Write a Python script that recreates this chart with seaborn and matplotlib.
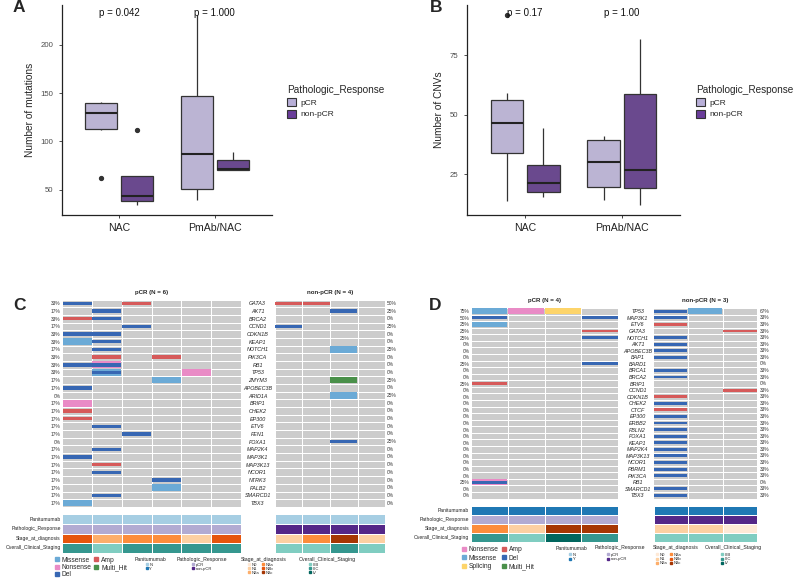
import numpy as np
import pandas as pd
import matplotlib
matplotlib.use("Agg")
import matplotlib.pyplot as plt
import seaborn as sns
from matplotlib.colors import ListedColormap
from matplotlib.patches import Patch
from matplotlib.lines import Line2D

# ---------------- data: box plots ----------------
groups = ["NAC", "PmAb/NAC"]
responses = ["pCR", "non-pCR"]

A_nac_pcr = [62, 112, 113, 120, 129, 135, 140, 141, 141]
A_nac_npcr = [34, 38, 44, 64, 112]
A_pmab_pcr = [40, 51, 87, 147, 231]
A_pmab_npcr = [70, 72, 89]
A_pvals = ["p = 0.042", "p = 1.000"]

B_nac_pcr = [14, 30, 33.9, 40, 46.7, 52, 56.2, 59.2, 92]
B_nac_npcr = [15.6, 17.7, 21.3, 28.8, 44.3]
B_pmab_pcr = [14.4, 19.9, 30.1, 39.4, 41.2]
B_pmab_npcr = [12, 19.3, 26.8, 58.5, 81.8]
B_pvals = ["p = 0.17", "p = 1.00"]

# ---------------- data: oncoprints ----------------
C_genes = ["GATA3", "AKT1", "BRCA2", "CCND1", "CDKN1B", "KEAP1", "NOTCH1", "PIK3CA", "RB1",
           "TP53", "ZMYM3", "APOBEC3B", "ARID1A", "BRIP1", "CHEK2", "EP300", "ETV6", "FEN1",
           "FOXA1", "MAP2K4", "MAP3K1", "MAP3K13", "NCOR1", "NTRK3", "PALB2", "SMARCD1", "TBX3"]
C_pcr_n = 6
C_npcr_n = 4
C_pcr_alts = [("GATA3", 0, "Del"), ("GATA3", 2, "Amp"), ("AKT1", 1, "Del"),
              ("BRCA2", 0, "Amp"), ("BRCA2", 1, "Del"), ("CCND1", 2, "Del"),
              ("CDKN1B", 0, "Del"), ("CDKN1B", 1, "Del"), ("KEAP1", 0, "Missense"),
              ("KEAP1", 1, "Del"), ("NOTCH1", 1, "Del"), ("PIK3CA", 1, "Amp"),
              ("PIK3CA", 3, "Amp"), ("RB1", 0, "Del"), ("RB1", 1, "Nonsense"), ("RB1", 1, "Del"),
              ("TP53", 1, "Missense"), ("TP53", 1, "Del"), ("TP53", 4, "Nonsense"),
              ("ZMYM3", 3, "Missense"), ("APOBEC3B", 0, "Del"), ("BRIP1", 0, "Nonsense"),
              ("CHEK2", 0, "Amp"), ("EP300", 0, "Amp"), ("ETV6", 1, "Del"), ("FEN1", 2, "Del"),
              ("MAP2K4", 1, "Del"), ("MAP3K1", 0, "Del"), ("MAP3K13", 1, "Amp"),
              ("NCOR1", 1, "Del"), ("NTRK3", 3, "Del"), ("PALB2", 3, "Missense"),
              ("SMARCD1", 1, "Del"), ("TBX3", 0, "Missense")]
C_npcr_alts = [("GATA3", 0, "Amp"), ("GATA3", 1, "Amp"), ("AKT1", 2, "Del"),
               ("CCND1", 0, "Del"), ("NOTCH1", 2, "Missense"), ("ZMYM3", 2, "Multi_Hit"),
               ("ARID1A", 2, "Missense"), ("FOXA1", 2, "Del")]
C_pcr_ann = {"Panitumumab": ["N"] * 6,
             "Pathologic_Response": ["pCR"] * 6,
             "Stage_at_diagnosis": ["N3b", "N2a", "N3a", "N3a", "N1", "N3b"],
             "Overall_Clinical_Staging": ["IIIC", "IIIB", "IIIC", "IIIC", "IIIC", "IIIC"]}
C_npcr_ann = {"Panitumumab": ["N"] * 4,
              "Pathologic_Response": ["non-pCR"] * 4,
              "Stage_at_diagnosis": ["N1", "N3a", "N3c", "N1"],
              "Overall_Clinical_Staging": ["IIIB", "IIIB", "IIIC", "IIIB"]}

D_genes = ["TP53", "MAP3K1", "ETV6", "GATA3", "NOTCH1", "AKT1", "APOBEC3B", "BAP1", "BARD1",
           "BRCA1", "BRCA2", "BRIP1", "CCND1", "CDKN1B", "CHEK2", "CTCF", "EP300", "ERBB2",
           "FBLN2", "FOXA1", "KEAP1", "MAP2K4", "MAP3K13", "NCOR1", "PBRM1", "PIK3CA", "RB1",
           "SMARCD1", "TBX3"]
D_pcr_n = 4
D_npcr_n = 3
D_pcr_alts = [("TP53", 0, "Missense"), ("TP53", 1, "Nonsense"), ("TP53", 2, "Splicing"),
              ("MAP3K1", 0, "Del"), ("MAP3K1", 3, "Del"), ("ETV6", 0, "Missense"),
              ("GATA3", 3, "Amp"), ("NOTCH1", 3, "Del"), ("BARD1", 3, "Del"),
              ("BRIP1", 0, "Amp"), ("RB1", 0, "Nonsense"), ("RB1", 0, "Del")]
D_npcr_alts = [("TP53", 0, "Del"), ("TP53", 1, "Missense"), ("MAP3K1", 0, "Del"),
               ("ETV6", 0, "Amp"), ("GATA3", 2, "Amp"), ("NOTCH1", 0, "Del"), ("AKT1", 0, "Del"),
               ("APOBEC3B", 0, "Del"), ("BAP1", 0, "Del"), ("BRCA1", 0, "Del"),
               ("BRCA2", 0, "Del"), ("CCND1", 2, "Amp"), ("CDKN1B", 0, "Amp"),
               ("CHEK2", 0, "Del"), ("CTCF", 0, "Amp"), ("EP300", 0, "Del"), ("ERBB2", 0, "Del"),
               ("FBLN2", 0, "Del"), ("FOXA1", 0, "Del"), ("KEAP1", 0, "Del"),
               ("MAP2K4", 0, "Del"), ("MAP3K13", 0, "Del"), ("NCOR1", 0, "Del"),
               ("PBRM1", 0, "Del"), ("PIK3CA", 0, "Del"), ("SMARCD1", 0, "Del"),
               ("TBX3", 0, "Del")]
D_pcr_ann = {"Panitumumab": ["Y"] * 4,
             "Pathologic_Response": ["pCR"] * 4,
             "Stage_at_diagnosis": ["N3a", "N1", "N3c", "N3c"],
             "Overall_Clinical_Staging": ["IIIC", "IIIB", "IV", "IIIC"]}
D_npcr_ann = {"Panitumumab": ["Y"] * 3,
              "Pathologic_Response": ["non-pCR"] * 3,
              "Stage_at_diagnosis": ["N1", "N1", "N0"],
              "Overall_Clinical_Staging": ["IIIB", "IIIB", "IIIB"]}

ann_tracks = ["Panitumumab", "Pathologic_Response", "Stage_at_diagnosis", "Overall_Clinical_Staging"]
pan_levels = ["N", "Y"]
resp_levels = ["pCR", "non-pCR"]
stage_levels = ["N0", "N1", "N2a", "N3a", "N3b", "N3c"]
overall_levels = ["IIIB", "IIIC", "IV"]
C_alt_legend = ["Missense", "Nonsense", "Del", "Amp", "Multi_Hit"]
D_alt_legend = ["Nonsense", "Missense", "Splicing", "Amp", "Del", "Multi_Hit"]

# ---------------- styles ----------------
BOX_COLORS = {"pCR": "#B8AFD8", "non-pCR": "#6A3D9A"}
ALT_COLORS = {"Missense": "#6BAAD6", "Nonsense": "#E98BC6", "Splicing": "#FDD46A",
              "Amp": "#D65A5A", "Del": "#3767B3", "Multi_Hit": "#4A904A"}
ALT_HEIGHT = {"Missense": 0.86, "Nonsense": 0.86, "Splicing": 0.86, "Multi_Hit": 0.86,
              "Amp": 0.45, "Del": 0.45}
ANN_COLORS = {"N": "#A6CEE3", "Y": "#1F78B4", "pCR": "#B2ABD2", "non-pCR": "#542788",
              "N0": "#FEE9D6", "N1": "#FDD0A2", "N2a": "#FDAE6B", "N3a": "#FD8D3C",
              "N3b": "#E6550D", "N3c": "#A63603",
              "IIIB": "#80CDC1", "IIIC": "#35978F", "IV": "#01665E"}

sns.set_theme(style="ticks")
plt.rcParams["font.family"] = ["Liberation Sans", "DejaVu Sans"]

W, H = 800, 578
fig = plt.figure(figsize=(W / 100, H / 100), dpi=100)


def add_ax(x0, y0, x1, y1):
    return fig.add_axes([x0 / W, 1 - y1 / H, (x1 - x0) / W, (y1 - y0) / H])


# ---------------- box plots ----------------
def make_df(sets):
    rows = []
    for grp, resp, vals in sets:
        rows += [(grp, resp, v) for v in vals]
    return pd.DataFrame(rows, columns=["Treatment", "Pathologic_Response", "Value"])


def box_panel(ax, df, ylabel, yticks, ylim, pvals, pval_y, leg_x):
    sns.boxplot(data=df, x="Treatment", y="Value", hue="Pathologic_Response", order=groups,
                hue_order=responses, palette=BOX_COLORS, width=0.75, gap=0.1,
                linecolor="#333333", linewidth=0.9, showcaps=False,
                flierprops=dict(marker="o", markersize=2.8, markerfacecolor="#333333",
                                markeredgecolor="#333333"),
                medianprops=dict(color="#222222", linewidth=1.5), ax=ax, legend=False)
    ax.set_xlim(-0.6, 1.6)
    ax.set_ylim(*ylim)
    ax.set_yticks(yticks)
    ax.set_xlabel("")
    ax.set_ylabel(ylabel, fontsize=7.3, labelpad=4)
    ax.tick_params(axis="x", labelsize=7.6, length=2.5, width=0.6, colors="#222222")
    ax.tick_params(axis="y", labelsize=5.6, length=2.5, width=0.6, labelcolor="#4D4D4D",
                   color="#333333")
    sns.despine(ax=ax)
    for s in ["left", "bottom"]:
        ax.spines[s].set_linewidth(0.9)
        ax.spines[s].set_color("#222222")
    for x, txt in zip(range(len(groups)), pvals):
        ax.text(x, pval_y, txt, ha="center", va="center", fontsize=7, color="#111111")
    handles = [Patch(facecolor=BOX_COLORS[r], edgecolor="#333333", linewidth=0.8) for r in responses]
    ax.legend(handles, responses, title="Pathologic_Response", loc="upper left",
              bbox_to_anchor=(leg_x / W, 1 - 85 / H), bbox_transform=fig.transFigure,
              frameon=False, fontsize=6, title_fontsize=7.2, alignment="left",
              handlelength=1.1, handleheight=1.1, handletextpad=0.5, labelspacing=0.35,
              borderpad=0, borderaxespad=0)


dfA = make_df([("NAC", "pCR", A_nac_pcr), ("NAC", "non-pCR", A_nac_npcr),
               ("PmAb/NAC", "pCR", A_pmab_pcr), ("PmAb/NAC", "non-pCR", A_pmab_npcr)])
dfB = make_df([("NAC", "pCR", B_nac_pcr), ("NAC", "non-pCR", B_nac_npcr),
               ("PmAb/NAC", "pCR", B_pmab_pcr), ("PmAb/NAC", "non-pCR", B_pmab_npcr)])

axA = add_ax(62, 5, 272, 215)
box_panel(axA, dfA, "Number of mutations", [50, 100, 150, 200], (24, 241), A_pvals, 232.5, 287)
axB = add_ax(467, 5, 680, 215)
box_panel(axB, dfB, "Number of CNVs", [25, 50, 75], (8, 96), B_pvals, 92.5, 696)


# ---------------- oncoprints ----------------
def draw_matrix(ax, genes, n, alts, title, pct_side, gene_pad=None, fs_gene=3.9, fs_pct=3.5):
    bg = np.zeros((len(genes), n))
    sns.heatmap(bg, ax=ax, cmap=ListedColormap(["#CCCCCC"]), cbar=False, linewidths=0.7,
                linecolor="white", xticklabels=False, yticklabels=False)
    gi = {g: i for i, g in enumerate(genes)}
    order = sorted(alts, key=lambda a: ALT_HEIGHT[a[2]], reverse=True)
    for g, s, t in order:
        ax.barh(gi[g] + 0.5, 0.97, left=s + 0.015, height=ALT_HEIGHT[t],
                color=ALT_COLORS[t], linewidth=0)
    ax.set_xlim(0, n)
    ax.set_ylim(len(genes), 0)
    hit = {g: set() for g in genes}
    for g, s, t in alts:
        hit[g].add(s)
    pcts = [f"{round(100 * len(hit[g]) / n)}%" for g in genes]
    rows = np.arange(len(genes)) + 0.5
    if pct_side == "left":
        ax.set_yticks(rows)
        ax.set_yticklabels(pcts, fontsize=fs_pct, color="#333333")
        ax.tick_params(axis="y", length=0, pad=1.2)
    else:
        for r, p in zip(rows, pcts):
            ax.text(n + 0.06 * 4 / n, r, p, ha="left", va="center", fontsize=fs_pct, color="#333333")
        ax.set_yticks(rows)
        ax.set_yticklabels(genes, fontsize=fs_gene, fontstyle="italic", color="#222222")
        ax.tick_params(axis="y", length=0, pad=gene_pad)
        for lbl in ax.get_yticklabels():
            lbl.set_horizontalalignment("center")
    ax.set_xticks([])
    ax.set_title(title, fontsize=4.4, fontweight="bold", pad=4)


ann_keys = list(ANN_COLORS.keys())
ann_cmap = ListedColormap([ANN_COLORS[k] for k in ann_keys])


def draw_ann(ax, ann, labels=True):
    codes = np.array([[ann_keys.index(v) for v in ann[t]] for t in ann_tracks])
    sns.heatmap(codes, ax=ax, cmap=ann_cmap, vmin=-0.5, vmax=len(ann_keys) - 0.5, cbar=False,
                linewidths=0.7, linecolor="white", xticklabels=False,
                yticklabels=ann_tracks if labels else False)
    ax.set_xticks([])
    if labels:
        ax.tick_params(axis="y", length=0, pad=1.2, labelsize=3.6, labelcolor="#222222")
        for lbl in ax.get_yticklabels():
            lbl.set_rotation(0)
    else:
        ax.set_yticks([])


def alt_legend(items, x, y, fs=4.8, spacing=0.05):
    handles = [Line2D([], [], marker="s", ls="", color=ALT_COLORS[t], markersize=2.4) for t in items]
    fig.legend(handles, items, loc="upper left", bbox_to_anchor=(x / W, 1 - y / H), ncol=2,
               fontsize=fs, frameon=False, borderpad=0, borderaxespad=0, handlelength=0.8,
               handletextpad=0.35, labelspacing=spacing, columnspacing=0.3)


def ann_legend(title, levels, tx, ty, dot_x, first_y, ncol=1, fs=3.0, tfs=3.7, spacing=0.0,
               colsp=0.9):
    fig.text(tx / W, 1 - ty / H, title, fontsize=tfs, ha="left", va="center", color="#222222")
    handles = [Line2D([], [], marker="s", ls="", color=ANN_COLORS[v], markersize=1.5) for v in levels]
    fig.legend(handles, levels, loc="upper left",
               bbox_to_anchor=((dot_x - 1.3) / W, 1 - (first_y - 2.4) / H), ncol=ncol,
               fontsize=fs, frameon=False, borderpad=0, borderaxespad=0, handlelength=0.6,
               handletextpad=0.35, labelspacing=spacing, columnspacing=colsp)


# Panel C
axC1 = add_ax(62.3, 299.5, 240.7, 506.9)
draw_matrix(axC1, C_genes, C_pcr_n, C_pcr_alts, "pCR (N = 6)", "left")
axC2 = add_ax(274.7, 299.5, 385.3, 506.9)
draw_matrix(axC2, C_genes, C_npcr_n, C_npcr_alts, "non-pCR (N = 4)", "right", gene_pad=12.3)
axCa1 = add_ax(62.3, 514.3, 240.7, 552.7)
draw_ann(axCa1, C_pcr_ann, labels=True)
axCa2 = add_ax(274.7, 514.3, 385.3, 552.7)
draw_ann(axCa2, C_npcr_ann, labels=False)

alt_legend(C_alt_legend, 54, 556.6)
ann_legend("Panitumumab", pan_levels, 135, 559.3, 146.7, 565)
ann_legend("Pathologic_Response", resp_levels, 176.7, 559.3, 192.7, 565)
ann_legend("Stage_at_diagnosis", stage_levels, 240.7, 559.3, 248.7, 565, ncol=2, colsp=0.6)
ann_legend("Overall_Clinical_Staging", overall_levels, 298.3, 559.3, 310, 565)

# Panel D
axD1 = add_ax(471, 308, 618.3, 498.6)
draw_matrix(axD1, D_genes, D_pcr_n, D_pcr_alts, "pCR (N = 4)", "left")
axD2 = add_ax(653.3, 308, 757.3, 498.6)
draw_matrix(axD2, D_genes, D_npcr_n, D_npcr_alts, "non-pCR (N = 3)", "right", gene_pad=11.3)
axDa1 = add_ax(471, 505.7, 618.3, 541.7)
draw_ann(axDa1, D_pcr_ann, labels=True)
axDa2 = add_ax(654, 505.7, 757.3, 541.7)
draw_ann(axDa2, D_npcr_ann, labels=False)

alt_legend(D_alt_legend, 461.3, 546, spacing=0.25)
ann_legend("Panitumumab", pan_levels, 556, 548, 570, 555.3, spacing=0.05)
ann_legend("Pathologic_Response", resp_levels, 595, 548, 608.3, 555.3, spacing=0.05)
ann_legend("Stage_at_diagnosis", stage_levels, 652.3, 548, 657.3, 555.3, ncol=2, spacing=0.05,
           colsp=0.6)
ann_legend("Overall_Clinical_Staging", overall_levels, 705, 548, 721.7, 555.3, spacing=0.05)

# panel letters
for letter, x, y in [("A", 13, 8), ("B", 430, 8), ("C", 13, 306), ("D", 429, 306)]:
    fig.text(x / W, 1 - y / H, letter, fontsize=12.5, fontweight="bold", ha="left", va="center")

fig.savefig("out.png", dpi=100)
